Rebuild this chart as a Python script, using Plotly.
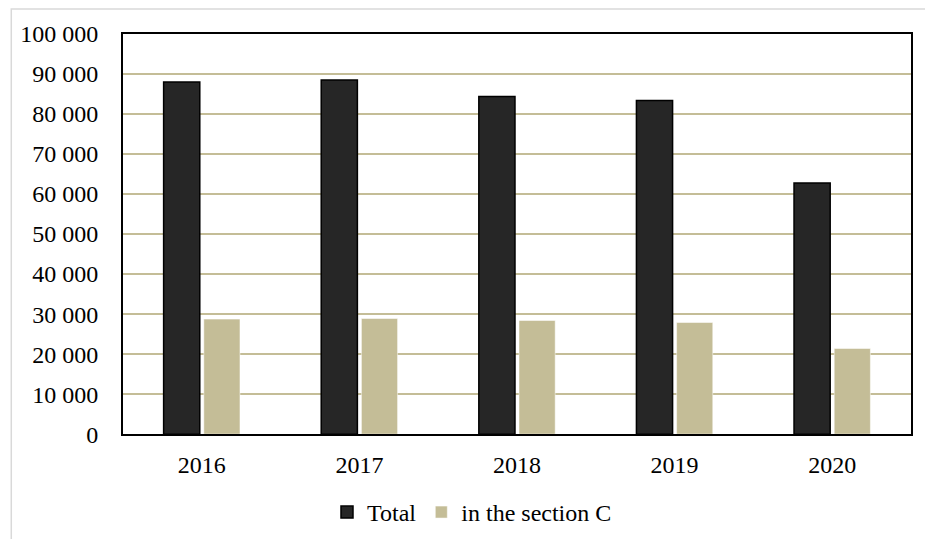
import plotly.graph_objects as go

years = ["2016", "2017", "2018", "2019", "2020"]
total = [88000, 88500, 84350, 83400, 62750]
section_c = [28750, 28900, 28400, 27900, 21400]
y_ticks = [0, 10000, 20000, 30000, 40000, 50000, 60000, 70000, 80000, 90000, 100000]

# page has an 8px body margin; figure coords = page coords - 8
W, H = 917, 531
L, R, T, B = 113, 14, 26, 104
pw, ph = W - L - R, H - T - B

def px_x(p):
    return (p - L) / pw

def px_y(p):
    return (H - B - p) / ph

fig = go.Figure()
fig.add_trace(go.Bar(
    x=years, y=total, name="Total",
    marker=dict(color="#262626", line=dict(color="#000000", width=1.5)),
))
fig.add_trace(go.Bar(
    x=years, y=section_c, name="in the section C",
    marker=dict(color="#C4BD97", line=dict(color="#FFFFFF", width=0.5)),
))

fig.update_layout(
    width=W, height=H,
    margin=dict(l=L, r=R, t=T, b=B, pad=0),
    paper_bgcolor="white", plot_bgcolor="white",
    barmode="group", bargap=0.49, bargroupgap=0.1,
    font=dict(family="Liberation Serif, Times New Roman, serif", size=24, color="#000000"),
    separators=". ",
    showlegend=True,
    legend=dict(orientation="h", x=0.506, xref="container", xanchor="center",
                y=0.05, yref="container", yanchor="middle",
                font=dict(size=24), itemwidth=30, traceorder="normal",
                itemclick=False),
    shapes=[dict(type="rect", xref="paper", yref="paper",
                 x0=px_x(1), x1=px_x(945), y0=px_y(560), y1=px_y(1),
                 line=dict(color="#D9D9D9", width=1.5), fillcolor="rgba(0,0,0,0)",
                 layer="below")],
)
fig.update_xaxes(
    showline=True, linecolor="#000000", linewidth=2, mirror=True,
    ticks="outside", ticklen=8, tickcolor="rgba(0,0,0,0)",
    showgrid=False,
)
fig.update_yaxes(
    range=[0, 100000], tickvals=y_ticks, tickformat=",d",
    showline=True, linecolor="#000000", linewidth=2, mirror=True,
    ticks="outside", ticklen=18, tickcolor="rgba(0,0,0,0)",
    showgrid=True, gridcolor="#C4BD97", gridwidth=1.5,
    zeroline=False,
)

fig.write_html("out.html")
